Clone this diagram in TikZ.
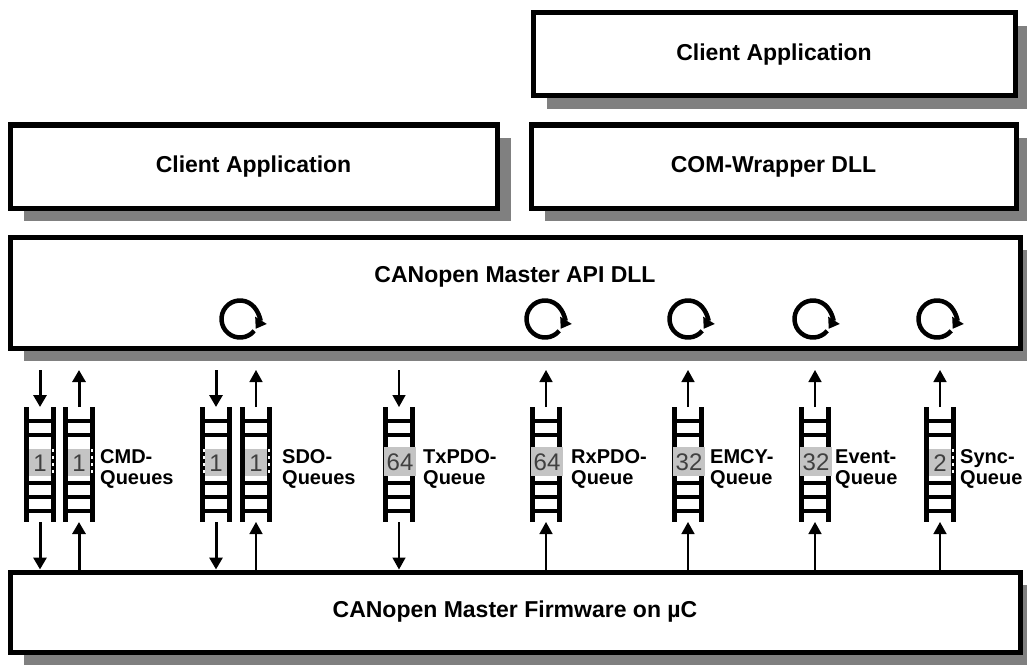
\documentclass[tikz,border=0pt]{standalone}
\usepackage{fontspec}
\setmainfont{Liberation Sans}
\usetikzlibrary{arrows.meta,shadows,calc}
\definecolor{shadowgray}{HTML}{808080}
\definecolor{qgray}{HTML}{C4C4C4}
\definecolor{numgray}{HTML}{404040}

\tikzset{
  layerbox/.style={draw, line width=5pt, fill=white, inner sep=0pt,
    general shadow={fill=shadowgray, shadow xshift=14pt, shadow yshift=-13pt},
    font=\fontsize{23}{27}\selectfont\bfseries},
  boxtxt/.style={inner sep=0pt, font=\fontsize{23}{27}\selectfont\bfseries},
  ladnode/.style={minimum width=32pt, minimum height=115pt, inner sep=0pt, outer sep=0pt},
  rail/.style={line width=5pt},
  rung/.style={line width=4.5pt},
  numtxt/.style={inner sep=0pt, text=numgray, font=\fontsize{24}{26}\selectfont},
  qlabel/.style={anchor=west, inner sep=0pt, align=left,
    font=\fontsize{20}{21}\selectfont\bfseries},
  thickarrow/.style={line width=3pt, -{Triangle[width=13pt,length=12pt]}},
  thinarrow/.style={line width=1.5pt, -{Triangle[width=13pt,length=12pt]}},
  loopst/.style={line width=4.5pt, -{Triangle[width=13pt,length=10pt]}},
  raildash/.style={white, line width=2pt, dash pattern=on 3pt off 4pt},
}

\newcommand\qladder[2]{%
  \node[ladnode] (#1) at (#2,464.5) {};
  \begin{scope}[shift={(#2,407)}]
    \draw[rail] (-13.5,0) -- (-13.5,115);
    \draw[rail] (13.5,0) -- (13.5,115);
    \foreach \r in {14,28,76,90,104} \draw[rung] (-13.5,\r) -- (13.5,\r);
  \end{scope}}

\newcommand\widenum[3]{% name, x, text
  \fill[qgray] (#2-15,447) rectangle (#2+17,476);
  \node[numtxt] (#1) at (#2+1,462) {#3};}

\newcommand\narrownum[4]{% name, x, text, side (+1/-1)
  \fill[qgray] (#2-11,449) rectangle (#2+11,476);
  \node[numtxt] (#1) at (#2,463) {#3};
  \draw[raildash] (#2+#4*12.5,449) -- (#2+#4*12.5,476);}

\begin{document}
\begin{tikzpicture}[x=1pt,y=-1pt]
\useasboundingbox (0,0) rectangle (1027,666);

% layer boxes
\node[layerbox, minimum width=482pt, minimum height=83pt] (topc) at (774,54.5) {Client Application};
\node[layerbox, minimum width=485pt, minimum height=83pt] (com) at (773.5,166.5) {COM-Wrapper DLL};
\node[layerbox, minimum width=487pt, minimum height=83pt] (lc) at (253.5,166.5) {Client Application};
\node[layerbox, minimum width=1010pt, minimum height=111pt] (api) at (515,292.5) {};
\node[boxtxt] (apitxt) at (515,277) {CANopen Master API DLL};
\node[layerbox, minimum width=1010pt, minimum height=80pt] (fw) at (515,612) {CANopen Master Firmware on µC};

% loops
\foreach \n/\lx in {l1/240,l2/545,l3/688,l4/813,l5/937}{
  \coordinate (\n) at (\lx,319);
  \draw[loopst] ($(\n)+(40:18.5)$) arc[start angle=40, end angle=392, radius=18.5];
}

% ladders
\qladder{cmda}{40}
\qladder{cmdb}{79}
\qladder{sdoa}{216}
\qladder{sdob}{256}
\qladder{txpdo}{399}
\qladder{rxpdo}{546}
\qladder{emcy}{688}
\qladder{event}{815}
\qladder{sync}{940}

% numbers
\narrownum{ncmda}{40}{1}{1}
\narrownum{ncmdb}{79}{1}{1}
\narrownum{nsdoa}{216}{1}{-1}
\narrownum{nsdob}{256}{1}{1}
\widenum{ntx}{399}{64}
\widenum{nrx}{546}{64}
\widenum{nemcy}{688}{32}
\widenum{nevent}{815}{32}
\narrownum{nsync}{940}{2}{1}

% queue labels
\node[qlabel] (lcmd) at (100,469) {CMD-\\Queues};
\node[qlabel] (lsdo) at (282,469) {SDO-\\Queues};
\node[qlabel] (ltx) at (423,469) {TxPDO-\\Queue};
\node[qlabel] (lrx) at (571,469) {RxPDO-\\Queue};
\node[qlabel] (lemcy) at (710,469) {EMCY-\\Queue};
\node[qlabel] (levent) at (835,469) {Event-\\Queue};
\node[qlabel] (lsync) at (960,469) {Sync-\\Queue};

% top arrow ends
\foreach \q in {cmda,cmdb,sdoa,sdob,txpdo,rxpdo,emcy,event,sync}{
  \coordinate (\q t) at ($(\q.north)+(0,-37)$);
}

% arrows: API <-> ladders
\draw[thickarrow] (cmdat) -- (cmda.north);
\draw[thickarrow] (cmdb.north) -- (cmdbt);
\draw[thickarrow] (sdoat) -- (sdoa.north);
\draw[thinarrow] (sdob.north) -- (sdobt);
\draw[thinarrow] (txpdot) -- (txpdo.north);
\draw[thinarrow] (rxpdo.north) -- (rxpdot);
\draw[thinarrow] (emcy.north) -- (emcyt);
\draw[thinarrow] (event.north) -- (eventt);
\draw[thinarrow] (sync.north) -- (synct);

% arrows: ladders <-> firmware
\draw[thickarrow] (cmda.south) -- (cmda.south |- fw.north);
\draw[thickarrow] (cmdb.south |- fw.north) -- (cmdb.south);
\draw[thickarrow] (sdoa.south) -- (sdoa.south |- fw.north);
\draw[thinarrow] (sdob.south |- fw.north) -- (sdob.south);
\draw[thinarrow] (txpdo.south) -- (txpdo.south |- fw.north);
\draw[thinarrow] (rxpdo.south |- fw.north) -- (rxpdo.south);
\draw[thinarrow] (emcy.south |- fw.north) -- (emcy.south);
\draw[thinarrow] (event.south |- fw.north) -- (event.south);
\draw[thinarrow] (sync.south |- fw.north) -- (sync.south);
\end{tikzpicture}
\end{document}
